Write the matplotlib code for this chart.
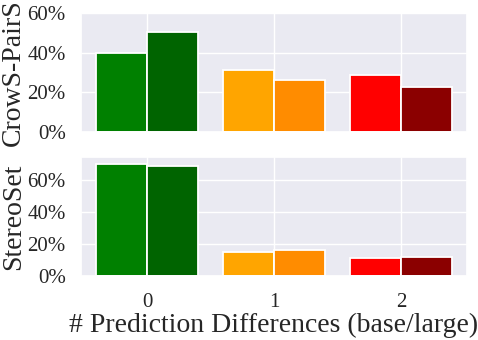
import numpy as np
import matplotlib
matplotlib.use("Agg")
import matplotlib.pyplot as plt
from matplotlib.ticker import PercentFormatter
import seaborn as sns

# number of prediction differences between base and large models
groups = [0, 1, 2]
crows_base = [39.7, 31.1, 28.6]
crows_large = [50.3, 26.2, 22.5]
stereo_base = [70.2, 15.2, 11.5]
stereo_large = [69.0, 16.5, 12.1]
base_colors = ["green", "orange", "red"]
large_colors = ["darkgreen", "darkorange", "darkred"]

sns.set_theme(style="darkgrid")
plt.rcParams["font.family"] = ["Liberation Serif", "DejaVu Serif"]

fig, axes = plt.subplots(2, 1, figsize=(4.78, 3.4), dpi=100, sharex=True)
fig.subplots_adjust(left=0.1695, right=0.977, top=0.962, bottom=0.188, hspace=0.21)

x = np.array(groups)
w = 0.4
panels = [(axes[0], crows_base, crows_large, "CrowS-PairS", 60),
          (axes[1], stereo_base, stereo_large, "StereoSet", 74.4)]
for ax, base, large, name, ymax in panels:
    ax.bar(x - w / 2, base, w, color=base_colors, edgecolor="white", linewidth=1.3)
    ax.bar(x + w / 2, large, w, color=large_colors, edgecolor="white", linewidth=1.3)
    ax.set_ylabel(name, fontsize=20, labelpad=1)
    ax.yaxis.set_major_formatter(PercentFormatter(decimals=0))
    ax.tick_params(axis="y", labelsize=15, pad=5)
    ax.tick_params(axis="x", labelsize=15, pad=6)
    ax.set_ylim(0, ymax)
    ax.set_yticks([0, 20, 40, 60])
    ax.set_xlim(-0.52, 2.52)

axes[1].set_xticks(groups)
axes[1].set_xlabel("# Prediction Differences (base/large)", fontsize=20, labelpad=1)

fig.savefig("out.png", dpi=100)
